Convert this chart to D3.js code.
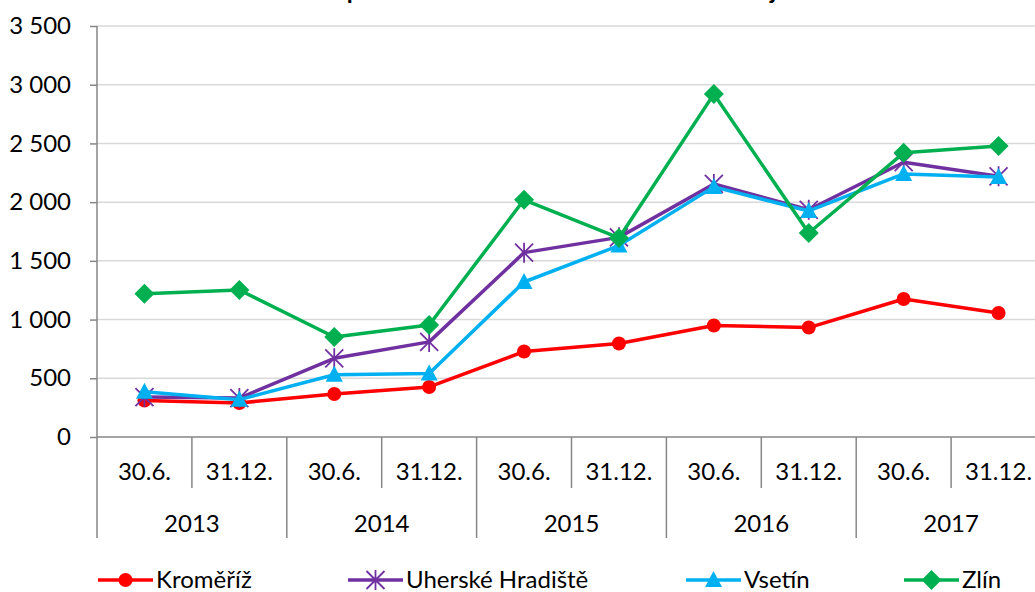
<!DOCTYPE html>
<html>
<head>
<meta charset="utf-8">
<script src="https://cdn.jsdelivr.net/npm/d3@7"></script>
<style>
  body { margin: 0; background: #fff; }
  text { font-family: Lato, "Open Sans", sans-serif; fill: #000; }
</style>
</head>
<body>
<div id="chart"></div>
<script>
var title = "Volná pracovní místa v okresech Zlínského kraje";
var years = ["2013", "2014", "2015", "2016", "2017"];
var halves = ["30.6.", "31.12."];
var yTicks = [0, 500, 1000, 1500, 2000, 2500, 3000, 3500];

var kromeriz = [310, 290, 366, 426, 728, 796, 950, 932, 1175, 1056];
var uherskeHradiste = [340, 332, 670, 810, 1570, 1700, 2155, 1935, 2340, 2220];
var vsetin = [385, 318, 530, 540, 1320, 1630, 2130, 1925, 2240, 2215];
var zlin = [1220, 1252, 852, 954, 2020, 1695, 2920, 1737, 2420, 2478];

var seriesNames = ["Kroměříž", "Uherské Hradiště", "Vsetín", "Zlín"];
var seriesColors = ["#FF0000", "#7030A0", "#00B0F0", "#00B050"];
var seriesMarkers = ["circle", "star", "triangle", "diamond"];

var width = 1035, height = 592;
var plotLeft = 97, plotRight = 1046, plotTop = 26, plotBottom = 437;

var svg = d3.select("#chart").append("svg")
    .attr("width", width)
    .attr("height", height);

// categories: year|half
var cats = [];
years.forEach(function(y) { halves.forEach(function(h) { cats.push(y + "|" + h); }); });

var xScale = d3.scaleBand().domain(cats).range([plotLeft, plotRight]);
var yScale = d3.scaleLinear().domain([0, 3500]).range([plotBottom, plotTop]);

// title (cut off at the top)
svg.append("text")
    .attr("x", 535)
    .attr("y", -1)
    .attr("text-anchor", "middle")
    .attr("font-size", "24px")
    .attr("font-weight", "bold")
    .text(title);

// gridlines
svg.append("g").selectAll("line")
    .data(yTicks.filter(function(d) { return d > 0; }))
    .enter().append("line")
    .attr("x1", plotLeft).attr("x2", plotRight)
    .attr("y1", function(d) { return yScale(d); })
    .attr("y2", function(d) { return yScale(d); })
    .attr("stroke", "#D9D9D9")
    .attr("stroke-width", 1.5);

// y axis
var yAxis = svg.append("g")
    .attr("transform", "translate(" + plotLeft + ",0)")
    .call(d3.axisLeft(yScale)
        .tickValues(yTicks)
        .tickSize(7)
        .tickPadding(19)
        .tickFormat(function(d) { return d3.format(",")(d).replace(/,/g, " "); }));
yAxis.select(".domain").remove();
yAxis.selectAll(".tick line").attr("stroke", "#868686").attr("stroke-width", 1.5);
yAxis.selectAll("text").attr("font-size", "24px").attr("font-family", "Lato, sans-serif").attr("fill", "#000");
svg.append("line")
    .attr("x1", plotLeft).attr("x2", plotLeft)
    .attr("y1", plotTop).attr("y2", 538)
    .attr("stroke", "#868686").attr("stroke-width", 1.5);

// x axis line
svg.append("line")
    .attr("x1", plotLeft).attr("x2", plotRight)
    .attr("y1", plotBottom).attr("y2", plotBottom)
    .attr("stroke", "#868686").attr("stroke-width", 1.5);

// category dividers
var bw = xScale.bandwidth();
cats.forEach(function(c, i) {
    var x = xScale(c) + bw;
    var isYearEnd = i % 2 === 1;
    svg.append("line")
        .attr("x1", x).attr("x2", x)
        .attr("y1", plotBottom).attr("y2", isYearEnd ? 538 : 488)
        .attr("stroke", "#868686").attr("stroke-width", 1.5);
});

// half-year labels
svg.append("g").selectAll("text")
    .data(cats)
    .enter().append("text")
    .attr("x", function(d) { return xScale(d) + bw / 2; })
    .attr("y", 480)
    .attr("text-anchor", "middle")
    .attr("font-size", "24px")
    .text(function(d) { return d.split("|")[1]; });

// year labels
svg.append("g").selectAll("text")
    .data(years)
    .enter().append("text")
    .attr("x", function(d) { return xScale(d + "|" + halves[0]) + bw; })
    .attr("y", 532)
    .attr("text-anchor", "middle")
    .attr("font-size", "24px")
    .text(function(d) { return d; });

function drawMarker(g, type, color, x, y) {
    if (type === "circle") {
        g.append("circle").attr("cx", x).attr("cy", y).attr("r", 7).attr("fill", color);
    } else if (type === "diamond") {
        g.append("path")
            .attr("d", "M" + x + "," + (y - 10) + "L" + (x + 10) + "," + y + "L" + x + "," + (y + 10) + "L" + (x - 10) + "," + y + "Z")
            .attr("fill", color);
    } else if (type === "triangle") {
        g.append("path")
            .attr("d", "M" + x + "," + (y - 9) + "L" + (x + 8.5) + "," + (y + 7) + "L" + (x - 8.5) + "," + (y + 7) + "Z")
            .attr("fill", color);
    } else if (type === "star") {
        var r = 9;
        var p = "M" + (x - r) + "," + (y - r) + "L" + (x + r) + "," + (y + r) +
                "M" + (x - r) + "," + (y + r) + "L" + (x + r) + "," + (y - r) +
                "M" + x + "," + (y - r - 1) + "L" + x + "," + (y + r + 1);
        g.append("path").attr("d", p).attr("stroke", color).attr("stroke-width", 1.8).attr("fill", "none");
    }
}

var allSeries = [kromeriz, uherskeHradiste, vsetin, zlin];
var line = d3.line()
    .x(function(d, i) { return xScale(cats[i]) + bw / 2; })
    .y(function(d) { return yScale(d); });

allSeries.forEach(function(values, s) {
    var g = svg.append("g");
    g.append("path")
        .attr("d", line(values))
        .attr("fill", "none")
        .attr("stroke", seriesColors[s])
        .attr("stroke-width", 3.5)
        .attr("stroke-linejoin", "round");
    values.forEach(function(v, i) {
        drawMarker(g, seriesMarkers[s], seriesColors[s], xScale(cats[i]) + bw / 2, yScale(v));
    });
});

// legend
var legendX = [98, 348, 686, 904];
seriesNames.forEach(function(name, s) {
    var g = svg.append("g");
    var x0 = legendX[s], ly = 580;
    g.append("line")
        .attr("x1", x0).attr("x2", x0 + 55)
        .attr("y1", ly).attr("y2", ly)
        .attr("stroke", seriesColors[s]).attr("stroke-width", 3.5);
    drawMarker(g, seriesMarkers[s], seriesColors[s], x0 + 27.5, ly);
    g.append("text")
        .attr("x", x0 + 58)
        .attr("y", ly + 8)
        .attr("font-size", "24px")
        .text(name);
});
</script>
</body>
</html>
